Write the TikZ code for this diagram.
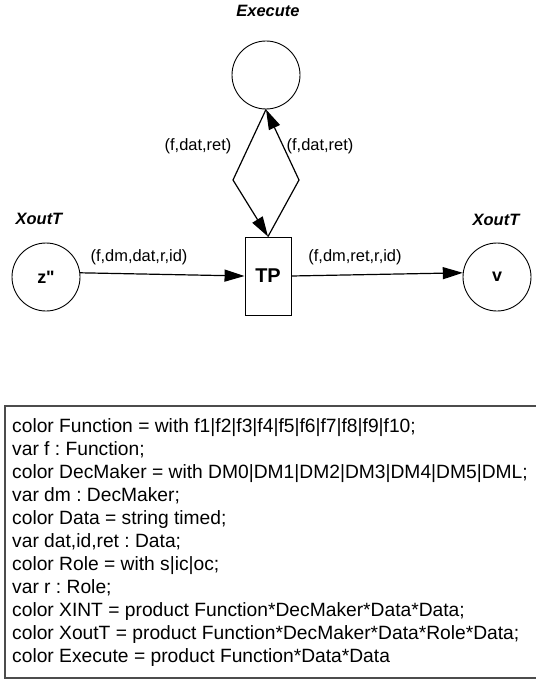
\documentclass[tikz,border=0pt]{standalone}
\usepackage{fontspec}
\setmainfont{Liberation Sans}
\newfontfamily\rawsans{Liberation Sans}
\usetikzlibrary{arrows.meta}
\frenchspacing
\begin{document}
\begin{tikzpicture}[x=1bp,y=-1bp,
  place/.style={circle,draw,line width=0.9bp,minimum size=68bp,inner sep=0pt,font=\rawsans\fontsize{18}{18}\selectfont\bfseries},
  trans/.style={rectangle,draw,line width=0.9bp,minimum width=46bp,minimum height=78bp,inner sep=0pt,font=\fontsize{20}{20}\selectfont\bfseries},
  tag/.style={font=\fontsize{16.5}{16.5}\selectfont\bfseries\itshape},
  lbl/.style={font=\fontsize{16.5}{16.5}\selectfont},
  arc/.style={line width=1.2bp,-{Triangle[length=20bp,width=12bp]}},
  declbox/.style={draw=black!70,line width=1.6bp,rectangle,minimum width=545bp,minimum height=272bp,inner sep=0pt},
  decltext/.style={align=left,inner sep=0pt,font=\frenchspacing\fontsize{19.3}{23.1}\selectfont},
]
\useasboundingbox (0,0) rectangle (536,680);
\node[tag] (execlbl) at (268,11) {Execute};
\node[place] (ex) at (266,75) {};
\node[trans] (tp) at (268,276) {TP};
\node[place] (z) at (46,277) {z"};
\node[place] (v) at (497,277) {v};
\node[tag] (zl) at (39,219) {XoutT};
\node[tag] (vl) at (496,220) {XoutT};
\coordinate (dl) at (233,180);
\coordinate (dr) at (299,180);
\draw[arc] (ex.south) -- (dl) -- (tp.north);
\draw[arc] (tp.north) -- (dr) -- (ex.south);
\draw[arc] (z.7) -- (tp.west);
\draw[arc] (tp.east) -- (v.173);
\node[lbl] (a1) at (198,146) {(f,dat,ret)};
\node[lbl] (a2) at (320,146) {(f,dat,ret)};
\node[lbl] (a3) at (139,257) {(f,dm,dat,r,id)};
\node[lbl] (a4) at (355,257) {(f,dm,ret,r,id)};
\node[declbox,anchor=north west] (box) at (4,405) {};
\node[decltext,anchor=north west] (decl) at (12,418) {color Function = with f1|f2|f3|f4|f5|f6|f7|f8|f9|f10;\\
var f : Function;\\
color DecMaker = with DM0|DM1|DM2|DM3|DM4|DM5|DML;\\
var dm : DecMaker;\\
color Data = string timed;\\
var dat,id,ret : Data;\\
color Role = with s|ic|oc;\\
var r : Role;\\
color XINT = product Function*DecMaker*Data*Data;\\
color XoutT = product Function*DecMaker*Data*Role*Data;\\
color Execute = product Function*Data*Data};
\end{tikzpicture}
\end{document}
